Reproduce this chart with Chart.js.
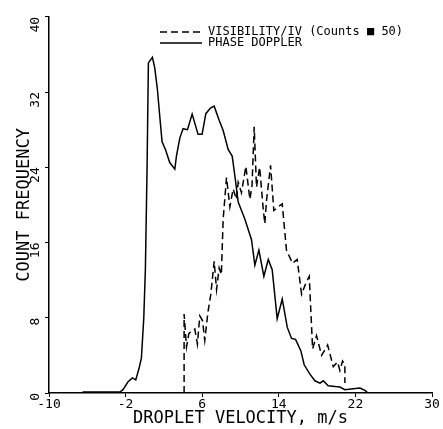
<!DOCTYPE html>
<html>
<head>
<meta charset="utf-8">
<script src="https://cdn.jsdelivr.net/npm/chart.js@4.4.1/dist/chart.umd.min.js"></script>
<style>
  html, body { margin: 0; padding: 0; background: #fff; }
  #wrap { width: 443px; height: 429px; }
</style>
</head>
<body>
<div id="wrap"><canvas id="velocityChart"></canvas></div>
<script>
// Droplet velocity distributions
const xTicks = [-10, -2, 6, 14, 22, 30];
const yTicks = [0, 8, 16, 24, 32, 40];

const phaseVel = [-6.5, -2.6, -2.27, -1.74, -1.29, -0.94, -0.6, -0.35, -0.1, 0.07, 0.24, 0.38, 0.8, 1.04, 1.32, 1.57, 1.81, 2.16, 2.61, 3.14, 3.31, 3.66, 4.0, 4.46, 4.95, 5.57, 5.99, 6.38, 6.86, 7.25, 7.77, 8.19, 8.71, 9.13, 9.41, 9.76, 10.45, 11.15, 11.5, 11.92, 12.44, 12.9, 13.31, 13.83, 14.36, 14.88, 15.33, 15.75, 16.3, 16.65, 17.25, 17.77, 18.3, 18.64, 19.16, 19.86, 20.38, 20.9, 21.78, 22.47, 23.0, 23.3];
const phaseCount = [0.1, 0.1, 0.35, 1.2, 1.6, 1.4, 2.6, 3.7, 8.0, 13.3, 23.8, 35.1, 35.7, 34.6, 32.3, 29.4, 26.7, 25.9, 24.5, 23.8, 25.2, 27.1, 28.1, 28.0, 29.65, 27.5, 27.5, 29.7, 30.3, 30.5, 29.0, 27.9, 25.9, 25.2, 23.1, 20.3, 18.5, 16.3, 13.6, 15.2, 12.4, 14.2, 13.1, 7.9, 10.0, 7.0, 5.8, 5.7, 4.5, 3.0, 2.0, 1.3, 1.05, 1.3, 0.77, 0.7, 0.63, 0.35, 0.45, 0.52, 0.28, 0.0];

const visVel = [4.11, 4.11, 4.36, 4.6, 4.88, 5.23, 5.5, 5.75, 6.03, 6.27, 6.6, 6.9, 7.25, 7.5, 7.77, 8.0, 8.19, 8.54, 8.89, 9.23, 9.58, 9.76, 10.1, 10.56, 10.98, 11.2, 11.43, 11.67, 12.0, 12.37, 12.54, 12.72, 13.14, 13.48, 13.94, 14.36, 14.8, 15.43, 15.92, 16.38, 16.83, 17.18, 17.53, 17.94, 18.47, 19.1, 19.69, 20.14, 20.38, 20.66, 20.9, 20.9];
const visCount = [0.0, 8.4, 4.9, 6.3, 6.6, 6.8, 5.2, 8.2, 7.7, 5.6, 8.6, 10.5, 14.0, 11.0, 13.3, 12.6, 18.5, 22.9, 19.8, 21.7, 20.6, 22.4, 21.3, 24.1, 20.6, 22.0, 28.3, 21.9, 24.0, 19.6, 18.0, 20.5, 24.2, 19.4, 19.8, 20.1, 15.2, 13.8, 14.2, 10.5, 11.7, 12.4, 4.7, 6.1, 4.0, 5.1, 2.8, 3.3, 2.4, 3.4, 3.0, 1.05];

const toPoints = (xs, ys) => xs.map((x, i) => ({ x: x, y: ys[i] }));

const FONT = "'DejaVu Sans Mono', 'Liberation Mono', monospace";

// legend drawn in the upper right of the plot area
const cornerLegend = {
  id: 'cornerLegend',
  afterDraw(chart) {
    const ctx = chart.ctx;
    const left = 160;
    const lineLen = 42;
    const rows = [32, 43];
    ctx.save();
    ctx.font = '12px ' + FONT;
    ctx.textBaseline = 'middle';
    ctx.fillStyle = '#000';
    chart.data.datasets.forEach((ds, i) => {
      const y = rows[i];
      ctx.strokeStyle = '#000';
      ctx.lineWidth = 1.5;
      ctx.setLineDash(ds.borderDash || []);
      ctx.beginPath();
      ctx.moveTo(left, y);
      ctx.lineTo(left + lineLen, y);
      ctx.stroke();
      ctx.setLineDash([]);
      ctx.fillText(ds.label, left + lineLen + 6, y);
    });
    ctx.restore();
  }
};

new Chart(document.getElementById('velocityChart'), {
  type: 'line',
  data: {
    datasets: [
      {
        label: 'VISIBILITY/IV (Counts \u25A0 50)',
        data: toPoints(visVel, visCount),
        borderColor: '#000',
        borderWidth: 1.5,
        borderDash: [7, 4],
        pointRadius: 0,
        tension: 0,
        fill: false
      },
      {
        label: 'PHASE DOPPLER',
        data: toPoints(phaseVel, phaseCount),
        borderColor: '#000',
        borderWidth: 1.5,
        pointRadius: 0,
        tension: 0,
        fill: false
      }
    ]
  },
  options: {
    responsive: true,
    maintainAspectRatio: false,
    animation: false,
    layout: { padding: { left: 0, top: 12, right: 11, bottom: 0 } },
    plugins: {
      legend: { display: false },
      tooltip: { enabled: false }
    },
    scales: {
      x: {
        type: 'linear',
        min: -10,
        max: 30,
        afterBuildTicks: s => { s.ticks = xTicks.map(v => ({ value: v })); },
        afterFit: s => { s.height = 36; },
        border: { color: '#000', width: 1.5 },
        grid: { display: true, drawOnChartArea: false, color: '#000', tickLength: 4 },
        ticks: { color: '#000', font: { family: FONT, size: 13 }, padding: 0, maxRotation: 0 },
        title: {
          display: true,
          text: 'DROPLET VELOCITY, m/s',
          color: '#000',
          font: { family: FONT, size: 17 },
          padding: 0
        }
      },
      y: {
        min: 0,
        max: 40,
        afterBuildTicks: s => { s.ticks = yTicks.map(v => ({ value: v })); },
        afterFit: s => { s.width = 49; },
        border: { color: '#000', width: 1.5 },
        grid: { display: true, drawOnChartArea: false, color: '#000', tickLength: 4 },
        ticks: { color: '#000', font: { family: FONT, size: 13 }, padding: 9, minRotation: 90, maxRotation: 90 },
        title: {
          display: true,
          text: 'COUNT FREQUENCY',
          color: '#000',
          font: { family: FONT, size: 17 },
          padding: { top: 14, bottom: 0 }
        }
      }
    }
  },
  plugins: [cornerLegend]
});
</script>
</body>
</html>
